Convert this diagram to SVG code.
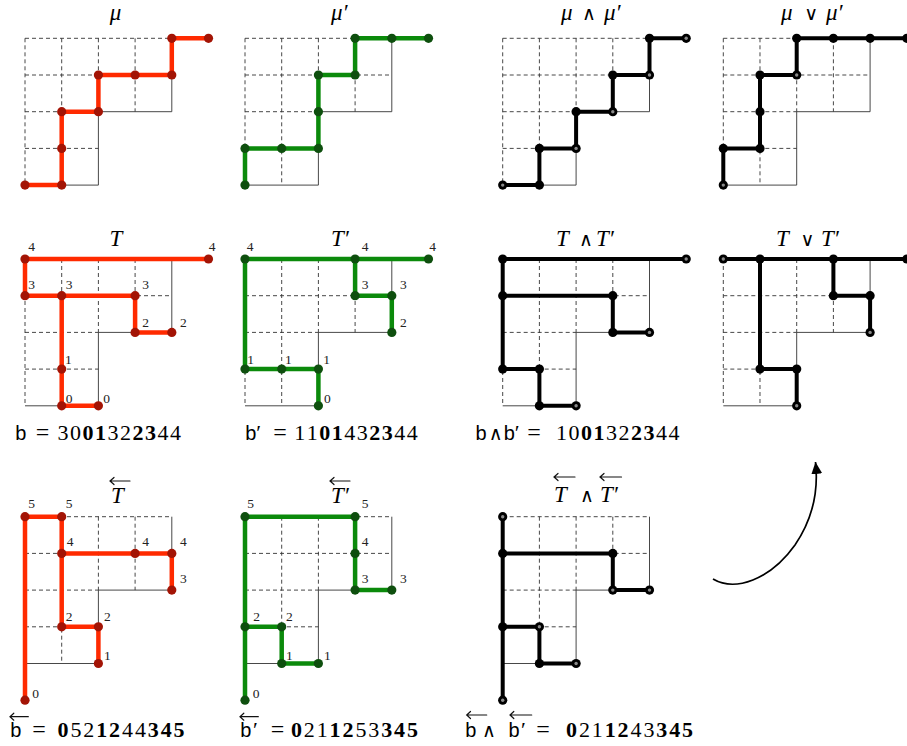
<svg xmlns="http://www.w3.org/2000/svg" xmlns:xlink="http://www.w3.org/1999/xlink" width="907" height="746" viewBox="0 0 907 746">
<style>
.gd{stroke:#333;stroke-width:0.9;stroke-dasharray:4 3;fill:none}
.gs{stroke:#333;stroke-width:0.9;fill:none}
.pr{stroke:#ff2a00;stroke-width:4.5;fill:none;stroke-linejoin:round}
.pg{stroke:#0b8a0b;stroke-width:4.5;fill:none;stroke-linejoin:round}
.pk{stroke:#000;stroke-width:4;fill:none;stroke-linejoin:round}
.dr{fill:#a31405}
.dg{fill:#0e4f0e}
.dk{fill:#000}
.lab{font-family:"Liberation Serif",serif;font-size:13.5px;fill:#222;text-anchor:middle}
.ttl{font-family:"Liberation Serif","DejaVu Serif",serif;font-size:23px;font-style:italic;fill:#000}
.op{font-family:"DejaVu Sans",sans-serif;font-size:19px;font-style:normal;text-anchor:middle;fill:#000}
.bl{font-family:"Liberation Serif",serif;font-size:22px;fill:#000}
.eq{font-family:"Liberation Serif",serif;font-size:24px;fill:#000;text-anchor:middle}
.sf{font-family:"Liberation Sans",sans-serif;font-size:20px;fill:#000}
.bd{font-weight:bold}
.oa{stroke:#111;stroke-width:1.2;fill:none;stroke-linecap:round}
.arc{stroke:#000;stroke-width:1.7;fill:none}
</style>
<defs>
<g id="grid">
<path class="gd" d="M0,0H146.8M0,36.7H146.8M0,73.4H73.4M0,110.1H73.4M0,0V146.8M36.7,0V146.8M73.4,0V73.4M110.1,0V73.4"/>
<path class="gs" d="M73.4,73.4H146.8M0,146.8H73.4M73.4,73.4V146.8M146.8,0V73.4"/>
</g>
<g id="ring"><circle r="4.6" fill="#000"/><circle r="1.7" fill="#8a8a8a"/></g>
<marker id="ah" markerUnits="userSpaceOnUse" markerWidth="13" markerHeight="11" refX="12" refY="5.5" orient="auto"><path d="M0,0L12,5.5L0,11z" fill="#000"/></marker>
</defs>

<!-- Row 1 -->
<g id="mu">
<text class="ttl" x="115.5" y="20" text-anchor="middle">μ</text>
<use href="#grid" x="25" y="38.3"/>
<path class="pr" d="M25,185.1H61.7V111.7H98.4V75H171.8V38.3H208.5"/>
<g class="dr"><circle cx="25" cy="185.1" r="4.6"/><circle cx="61.7" cy="185.1" r="4.6"/><circle cx="61.7" cy="148.4" r="4.6"/><circle cx="61.7" cy="111.7" r="4.6"/><circle cx="98.4" cy="111.7" r="4.6"/><circle cx="98.4" cy="75" r="4.6"/><circle cx="135.1" cy="75" r="4.6"/><circle cx="171.8" cy="75" r="4.6"/><circle cx="171.8" cy="38.3" r="4.6"/><circle cx="208.5" cy="38.3" r="4.6"/></g>
</g>
<g id="mu-prime">
<text class="ttl" x="331" y="20">μ′</text>
<use href="#grid" x="245" y="38.3"/>
<path class="pg" d="M245,185.1V148.4H318.4V75H355.1V38.3H428.5"/>
<g class="dg"><circle cx="245" cy="185.1" r="4.6"/><circle cx="245" cy="148.4" r="4.6"/><circle cx="281.7" cy="148.4" r="4.6"/><circle cx="318.4" cy="148.4" r="4.6"/><circle cx="318.4" cy="111.7" r="4.6"/><circle cx="318.4" cy="75" r="4.6"/><circle cx="355.1" cy="75" r="4.6"/><circle cx="355.1" cy="38.3" r="4.6"/><circle cx="391.8" cy="38.3" r="4.6"/><circle cx="428.5" cy="38.3" r="4.6"/></g>
</g>
<g id="mu-meet">
<text class="ttl" x="561" y="20">μ</text><text class="op" x="589" y="20">∧</text><text class="ttl" x="604" y="20">μ′</text>
<use href="#grid" x="502.7" y="38.3"/>
<path class="pk" d="M502.7,185.1H539.4V148.4H576.1V111.7H612.8V75H649.5V38.3H686.2"/>
<g class="dk"><circle cx="539.4" cy="185.1" r="4.6"/><circle cx="539.4" cy="148.4" r="4.6"/><circle cx="576.1" cy="111.7" r="4.6"/><circle cx="612.8" cy="75" r="4.6"/><circle cx="649.5" cy="38.3" r="4.6"/></g>
<use href="#ring" x="502.7" y="185.1"/><use href="#ring" x="576.1" y="148.4"/><use href="#ring" x="612.8" y="111.7"/><use href="#ring" x="649.5" y="75"/><use href="#ring" x="686.2" y="38.3"/>
</g>
<g id="mu-join">
<text class="ttl" x="781" y="20">μ</text><text class="op" x="811.3" y="20">∨</text><text class="ttl" x="826" y="20">μ′</text>
<use href="#grid" x="723.3" y="38.3"/>
<path class="pk" d="M723.3,185.1V148.4H760V75H796.7V38.3H906.8"/>
<g class="dk"><circle cx="723.3" cy="148.4" r="4.6"/><circle cx="760" cy="148.4" r="4.6"/><circle cx="760" cy="111.7" r="4.6"/><circle cx="760" cy="75" r="4.6"/><circle cx="796.7" cy="38.3" r="4.6"/><circle cx="833.4" cy="38.3" r="4.6"/><circle cx="870.1" cy="38.3" r="4.6"/><circle cx="906.8" cy="38.3" r="4.6"/></g>
<use href="#ring" x="723.3" y="185.1"/><use href="#ring" x="796.7" y="75"/>
</g>

<!-- Row 2 -->
<g id="T">
<text class="ttl" x="116" y="245.5" text-anchor="middle">T</text>
<use href="#grid" x="25" y="259"/>
<path class="pr" d="M25,259H208.5M25,259V295.7H135.1V332.4H171.8M61.7,295.7V405.8H98.4"/>
<g class="dr"><circle cx="25" cy="259" r="4.6"/><circle cx="208.5" cy="259" r="4.6"/><circle cx="25" cy="295.7" r="4.6"/><circle cx="61.7" cy="295.7" r="4.6"/><circle cx="135.1" cy="295.7" r="4.6"/><circle cx="135.1" cy="332.4" r="4.6"/><circle cx="171.8" cy="332.4" r="4.6"/><circle cx="61.7" cy="369.1" r="4.6"/><circle cx="61.7" cy="405.8" r="4.6"/><circle cx="98.4" cy="405.8" r="4.6"/></g>
<g class="lab"><text x="31.7" y="251">4</text><text x="212" y="251">4</text><text x="31.7" y="288.8">3</text><text x="69" y="288.8">3</text><text x="145.7" y="288.8">3</text><text x="145.7" y="327.2">2</text><text x="183.3" y="327.2">2</text><text x="68.3" y="363.8">1</text><text x="69" y="402.8">0</text><text x="106.7" y="402.8">0</text></g>
<text y="440"><tspan class="sf" x="15.2">b</tspan></text><text class="eq" x="42.5" y="440">=</text>
<text class="bl" y="440"><tspan x="57.5 70">30</tspan><tspan class="bd" x="82.5 95">01</tspan><tspan x="107.5 120">32</tspan><tspan class="bd" x="132.5 145">23</tspan><tspan x="157.5 170">44</tspan></text>
</g>
<g id="T-prime">
<text class="ttl" x="331" y="245.5">T′</text>
<use href="#grid" x="245" y="259"/>
<path class="pg" d="M245,259H428.5M245,259V369.1H318.4V405.8M355.1,259V295.7H391.8V332.4"/>
<g class="dg"><circle cx="245" cy="259" r="4.6"/><circle cx="355.1" cy="259" r="4.6"/><circle cx="428.5" cy="259" r="4.6"/><circle cx="355.1" cy="295.7" r="4.6"/><circle cx="391.8" cy="295.7" r="4.6"/><circle cx="391.8" cy="332.4" r="4.6"/><circle cx="245" cy="369.1" r="4.6"/><circle cx="281.7" cy="369.1" r="4.6"/><circle cx="318.4" cy="369.1" r="4.6"/><circle cx="318.4" cy="405.8" r="4.6"/></g>
<g class="lab"><text x="250" y="251">4</text><text x="365" y="251">4</text><text x="432.7" y="251">4</text><text x="365" y="288.8">3</text><text x="403.3" y="288.8">3</text><text x="403.3" y="327.2">2</text><text x="250.7" y="363.8">1</text><text x="288.3" y="363.8">1</text><text x="326.7" y="363.8">1</text><text x="327.3" y="402.8">0</text></g>
<text y="440"><tspan class="sf" x="245.2">b</tspan><tspan class="bl" font-size="18">′</tspan></text><text class="eq" x="280" y="440">=</text>
<text class="bl" y="440"><tspan x="294.2 306.7">11</tspan><tspan class="bd" x="319.2 331.7">01</tspan><tspan x="344.2 356.7">43</tspan><tspan class="bd" x="369.2 381.7">23</tspan><tspan x="394.2 406.7">44</tspan></text>
</g>
<g id="T-meet">
<text class="ttl" x="556" y="245.5">T</text><text class="op" x="586" y="245.5">∧</text><text class="ttl" x="596" y="245.5">T′</text>
<use href="#grid" x="502.7" y="259"/>
<path class="pk" d="M502.7,259H686.2M502.7,259V369.1H539.4V405.8H576.1M502.7,295.7H612.8V332.4H649.5"/>
<g class="dk"><circle cx="502.7" cy="259" r="4.6"/><circle cx="502.7" cy="295.7" r="4.6"/><circle cx="612.8" cy="295.7" r="4.6"/><circle cx="612.8" cy="332.4" r="4.6"/><circle cx="502.7" cy="369.1" r="4.6"/><circle cx="539.4" cy="369.1" r="4.6"/><circle cx="539.4" cy="405.8" r="4.6"/></g>
<use href="#ring" x="686.2" y="259"/><use href="#ring" x="649.5" y="332.4"/><use href="#ring" x="576.1" y="405.8"/>
<text class="sf" x="475.4" y="440">b</text><text class="op" x="495.8" y="440">∧</text><text y="440"><tspan class="sf" x="503.7">b</tspan><tspan class="bl" font-size="18">′</tspan></text><text class="eq" x="534" y="440">=</text>
<text class="bl" y="440"><tspan x="556 568.5">10</tspan><tspan class="bd" x="581 593.5">01</tspan><tspan x="606 618.5">32</tspan><tspan class="bd" x="631 643.5">23</tspan><tspan x="656 668.5">44</tspan></text>
</g>
<g id="T-join">
<text class="ttl" x="776" y="245.5">T</text><text class="op" x="807.5" y="245.5">∨</text><text class="ttl" x="821" y="245.5">T′</text>
<use href="#grid" x="723.3" y="259"/>
<path class="pk" d="M723.3,259H906.8M760,259V369.1H796.7V405.8M833.4,259V295.7H870.1V332.4"/>
<g class="dk"><circle cx="760" cy="259" r="4.6"/><circle cx="833.4" cy="259" r="4.6"/><circle cx="906.8" cy="259" r="4.6"/><circle cx="833.4" cy="295.7" r="4.6"/><circle cx="870.1" cy="295.7" r="4.6"/><circle cx="760" cy="369.1" r="4.6"/><circle cx="796.7" cy="369.1" r="4.6"/></g>
<use href="#ring" x="723.3" y="259"/><use href="#ring" x="870.1" y="332.4"/><use href="#ring" x="796.7" y="405.8"/>
</g>

<!-- Row 3 -->
<g id="T-rev">
<text class="ttl" x="111" y="503">T</text><path class="oa" d="M110,481H130M114,477.5L110,481L114,484.5"/>
<use href="#grid" x="25" y="516.7"/>
<path class="pr" d="M25,700.2V516.7H61.7V626.8H98.4V663.5M61.7,553.4H171.8V590.1"/>
<g class="dr"><circle cx="25" cy="516.7" r="4.6"/><circle cx="61.7" cy="516.7" r="4.6"/><circle cx="61.7" cy="553.4" r="4.6"/><circle cx="135.1" cy="553.4" r="4.6"/><circle cx="171.8" cy="553.4" r="4.6"/><circle cx="171.8" cy="590.1" r="4.6"/><circle cx="61.7" cy="626.8" r="4.6"/><circle cx="98.4" cy="626.8" r="4.6"/><circle cx="98.4" cy="663.5" r="4.6"/><circle cx="25" cy="700.2" r="4.6"/></g>
<g class="lab"><text x="31.7" y="507.8">5</text><text x="69" y="507.8">5</text><text x="70" y="545.5">4</text><text x="145.7" y="545.5">4</text><text x="183.3" y="545.5">4</text><text x="183.3" y="582.8">3</text><text x="69" y="621.2">2</text><text x="107.3" y="621.2">2</text><text x="107.3" y="659.5">1</text><text x="35.7" y="697.8">0</text></g>
<text class="sf" x="10.2" y="737">b</text><path class="oa" d="M10,716.7H28.3M13.8,713.2L10,716.7L13.8,720.2"/><text class="eq" x="39" y="737">=</text>
<text class="bl" y="737"><tspan class="bd" x="57.5">0</tspan><tspan x="70.4 83.3">52</tspan><tspan class="bd" x="96.2 109.1">12</tspan><tspan x="122 134.9">44</tspan><tspan class="bd" x="147.8 160.7 173.6">345</tspan></text>
</g>
<g id="T-prime-rev">
<text class="ttl" x="331" y="503">T′</text><path class="oa" d="M330,481H350M334,477.5L330,481L334,484.5"/>
<use href="#grid" x="245" y="516.7"/>
<path class="pg" d="M245,700.2V516.7H355.1V590.1H391.8M245,626.8H281.7V663.5H318.4"/>
<g class="dg"><circle cx="245" cy="516.7" r="4.6"/><circle cx="355.1" cy="516.7" r="4.6"/><circle cx="355.1" cy="553.4" r="4.6"/><circle cx="355.1" cy="590.1" r="4.6"/><circle cx="391.8" cy="590.1" r="4.6"/><circle cx="245" cy="626.8" r="4.6"/><circle cx="281.7" cy="626.8" r="4.6"/><circle cx="281.7" cy="663.5" r="4.6"/><circle cx="318.4" cy="663.5" r="4.6"/><circle cx="245" cy="700.2" r="4.6"/></g>
<g class="lab"><text x="250.7" y="507.8">5</text><text x="365" y="507.8">5</text><text x="365" y="545.5">4</text><text x="365" y="582.8">3</text><text x="403.3" y="582.8">3</text><text x="256.7" y="621.2">2</text><text x="289.3" y="621.2">2</text><text x="289.3" y="659.5">1</text><text x="327.3" y="659.5">1</text><text x="256" y="697.8">0</text></g>
<text class="sf" x="240.2" y="737">b</text><text class="bl" x="253" y="737" font-size="18">′</text><path class="oa" d="M240,716.7H258.3M243.8,713.2L240,716.7L243.8,720.2"/><text class="eq" x="277.5" y="737">=</text>
<text class="bl" y="737"><tspan class="bd" x="290.9">0</tspan><tspan x="303.8 316.7">21</tspan><tspan class="bd" x="329.6 342.5">12</tspan><tspan x="355.4 368.3">53</tspan><tspan class="bd" x="381.2 394.1 407">345</tspan></text>
</g>
<g id="T-rev-meet">
<text class="ttl" x="554" y="502">T</text><path class="oa" d="M554,477H575M558,473.5L554,477L558,480.5"/>
<text class="op" x="587" y="502">∧</text>
<text class="ttl" x="600" y="502">T′</text><path class="oa" d="M600,477H621.5M604,473.5L600,477L604,480.5"/>
<use href="#grid" x="502.7" y="516.7"/>
<path class="pk" d="M502.7,516.7V700.2M502.7,553.4H612.8V590.1H649.5M502.7,626.8H539.4V663.5H576.1"/>
<g class="dk"><circle cx="502.7" cy="553.4" r="4.6"/><circle cx="612.8" cy="553.4" r="4.6"/><circle cx="502.7" cy="626.8" r="4.6"/><circle cx="539.4" cy="663.5" r="4.6"/></g>
<use href="#ring" x="502.7" y="516.7"/><use href="#ring" x="612.8" y="590.1"/><use href="#ring" x="649.5" y="590.1"/><use href="#ring" x="539.4" y="626.8"/><use href="#ring" x="576.1" y="663.5"/><use href="#ring" x="502.7" y="700.2"/>
<text class="sf" x="465.3" y="737">b</text><path class="oa" d="M466.7,715H486.7M470.5,711.5L466.7,715L470.5,718.5"/>
<text class="op" x="489" y="737">∧</text>
<text class="sf" x="508.6" y="737">b</text><text class="bl" x="521" y="737" font-size="18">′</text><path class="oa" d="M510,715H531.7M513.8,711.5L510,715L513.8,718.5"/>
<text class="eq" x="543" y="737">=</text>
<text class="bl" y="737"><tspan class="bd" x="566">0</tspan><tspan x="578.9 591.8">21</tspan><tspan class="bd" x="604.7 617.6">12</tspan><tspan x="630.5 643.4">43</tspan><tspan class="bd" x="656.3 669.2 682.1">345</tspan></text>
</g>

<g id="connectors">
<path class="arc" marker-end="url(#ah)" d="M713,579C735,592 770,580 795,545C812,520 819,494 815.5,462"/>
</g>
</svg>
